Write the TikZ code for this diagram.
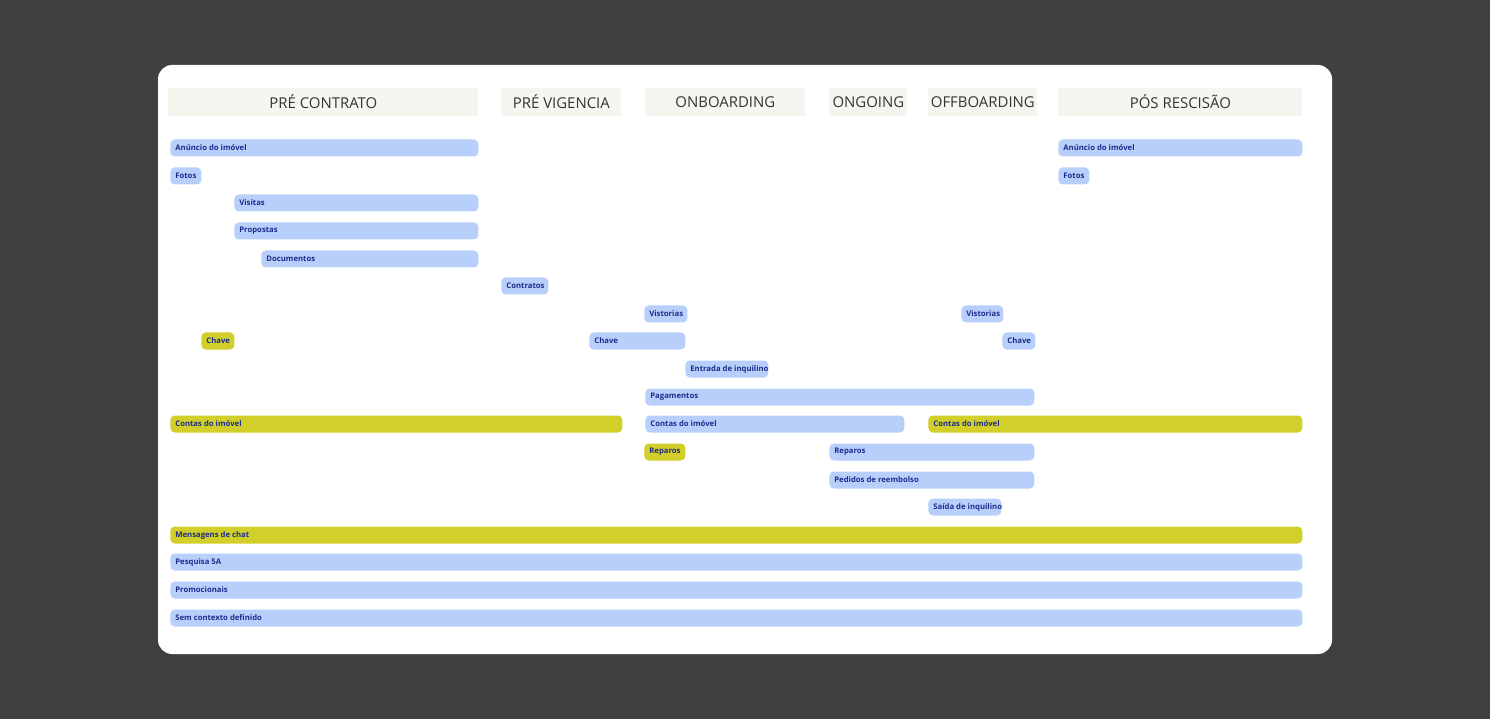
\documentclass[tikz,border=0pt]{standalone}
\usepackage{fontspec}
\setmainfont{Open Sans}
\usepackage{tikz}
\definecolor{pageBg}{HTML}{404040}
\definecolor{headBg}{HTML}{F6F6F1}
\definecolor{laneBlue}{HTML}{B8CFFB}
\definecolor{laneYellow}{HTML}{D2CF2A}
\definecolor{laneText}{HTML}{1E2C8C}
\tikzset{head/.style={fill=headBg,minimum height=28*0.02cm,minimum width=#1*0.02cm,anchor=west,inner sep=0pt,
    font=\fontsize{8.5}{10}\selectfont,text=black!80},
  bar/.style={fill=laneBlue,rounded corners=2.5pt,minimum height=17*0.02cm,minimum width=#1*0.02cm,anchor=west,inner sep=0pt},
  ybar/.style={bar=#1,fill=laneYellow},
  lbl/.style={anchor=west,inner sep=0pt,xshift=5*0.02cm,font=\bfseries\fontsize{4.4}{5}\selectfont,text=laneText}}

\begin{document}
\begin{tikzpicture}[x=0.02cm,y=-0.02cm]
    \fill[pageBg] (0,0) rectangle (1490,719);
    \fill[white,rounded corners=8pt] (158,65) rectangle (1332,654);

    % phases
    \node[head=310] (hpre) at (168,102) {PRÉ CONTRATO};
    \node[head=120] (hvig) at (501,102) {PRÉ VIGENCIA};
    \node[head=160] (hon) at (645,102) {ONBOARDING};
    \node[head=78] (hgo) at (829,102) {ONGOING};
    \node[head=109] (hoff) at (928,102) {OFFBOARDING};
    \node[head=244] (hpos) at (1058,102) {PÓS RESCISÃO};

    % lanes
    \node[bar=308,label={[lbl]west:Anúncio do imóvel}] (anuncioA) at (170,148) {};
    \node[bar=244,label={[lbl]west:Anúncio do imóvel}] (anuncioB) at (1058,148) {};
    \node[bar=31,label={[lbl]west:Fotos}] (fotosA) at (170,176) {};
    \node[bar=31,label={[lbl]west:Fotos}] (fotosB) at (1058,176) {};
    \node[bar=244,label={[lbl]west:Visitas}] (visitas) at (234,203) {};
    \node[bar=244,label={[lbl]west:Propostas}] (propostas) at (234,231) {};
    \node[bar=217,label={[lbl]west:Documentos}] (docs) at (261,259) {};
    \node[bar=47,label={[lbl]west:Contratos}] (contratos) at (501,286) {};
    \node[bar=43,label={[lbl]west:Vistorias}] (vistA) at (644,314) {};
    \node[bar=42,label={[lbl]west:Vistorias}] (vistB) at (961,314) {};
    \node[ybar=33,label={[lbl]west:Chave}] (chaveA) at (201,341) {};
    \node[bar=96,label={[lbl]west:Chave}] (chaveB) at (589,341) {};
    \node[bar=33,label={[lbl]west:Chave}] (chaveC) at (1002,341) {};
    \node[bar=83,label={[lbl]west:Entrada de inquilino}] (entrada) at (685,369) {};
    \node[bar=389,label={[lbl]west:Pagamentos}] (pagam) at (645,397) {};
    \node[ybar=452,label={[lbl]west:Contas do imóvel}] (contasA) at (170,424) {};
    \node[bar=259,label={[lbl]west:Contas do imóvel}] (contasB) at (645,424) {};
    \node[ybar=374,label={[lbl]west:Contas do imóvel}] (contasC) at (928,424) {};
    \node[ybar=41,label={[lbl]west:Reparos}] (reparosA) at (644,452) {};
    \node[bar=205,label={[lbl]west:Reparos}] (reparosB) at (829,452) {};
    \node[bar=205,label={[lbl]west:Pedidos de reembolso}] (pedidos) at (829,480) {};
    \node[bar=73,label={[lbl]west:Saída de inquilino}] (saida) at (928,507) {};
    \node[ybar=1132,label={[lbl]west:Mensagens de chat}] (chat) at (170,535) {};
    \node[bar=1132,label={[lbl]west:Pesquisa 5A}] (pesquisa) at (170,562) {};
    \node[bar=1132,label={[lbl]west:Promocionais}] (promo) at (170,590) {};
    \node[bar=1132,label={[lbl]west:Sem contexto definido}] (semctx) at (170,618) {};
\end{tikzpicture}
\end{document}
